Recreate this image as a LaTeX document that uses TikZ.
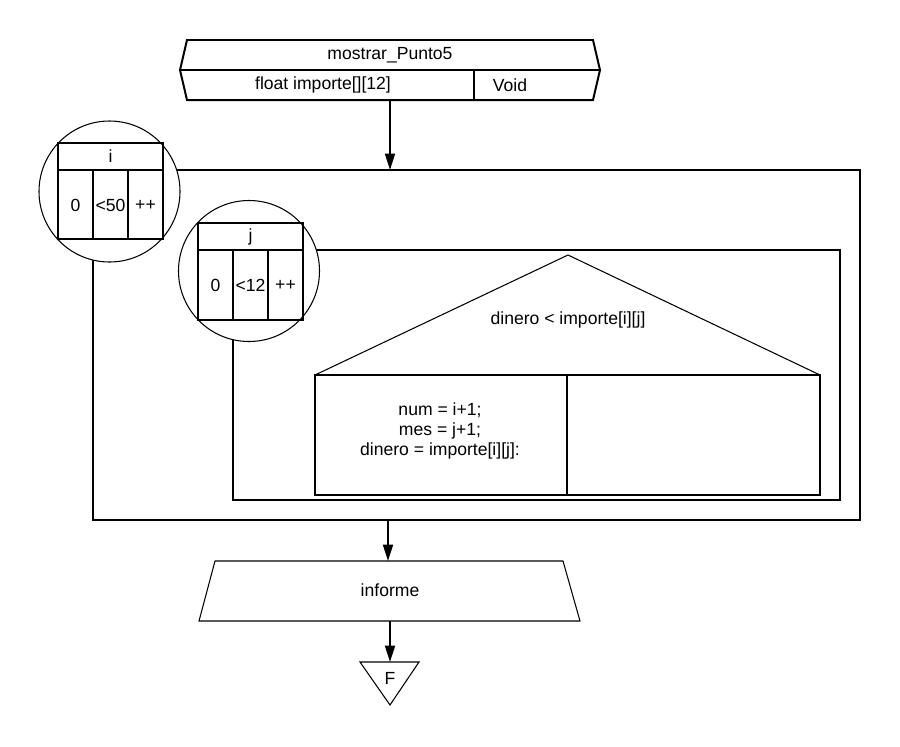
\documentclass[tikz,border=0pt]{standalone}
\usepackage{fontspec}
\setmainfont{Liberation Sans}
\usetikzlibrary{arrows.meta}
\newcommand{\gruesa}{1.7pt}
\newcommand{\fina}{0.9pt}

\begin{document}
\begin{tikzpicture}[x=0.03cm, y=-0.03cm,
    font=\fontsize{15}{17}\selectfont,
    marco/.style={line width=\gruesa},
    linea/.style={line width=\fina},
    flecha/.style={line width=\gruesa, -{Triangle[length=14pt, width=8.5pt]}},
    ciclo/.style={draw, circle, line width=\fina, fill=white, minimum size=4.23cm, inner sep=0pt}]

  \useasboundingbox (0,0) rectangle (900,746);

  % encabezado
  \draw[marco] (187,40) -- (593,40) -- (600,70) -- (593,100) -- (187,100) -- (180,70) -- cycle;
  \draw[marco] (180,70) -- (600,70);
  \draw[line width=2.5pt] (474,70) -- (474,100);
  \node (nombre) at (390,55)  {mostrar\_Punto5};
  \node (param)  at (323,85)  {float importe[][12]};
  \node (ret)    at (510,85)  {Void};

  \coordinate (entrada) at (390,100);
  \coordinate (cicloi) at (390,170);
  \draw[flecha] (entrada) to (cicloi);

  % ciclo i
  \draw[marco] (93,170) rectangle (860,520);
  \node (ci) at (109.5,191.5) [ciclo] {};
  \draw[marco] (58,143) rectangle (163,239);
  \draw[marco] (58,170) -- (163,170);
  \draw[marco] (93,170) -- (93,239);
  \draw[marco] (128,170) -- (128,239);
  \node (vari)  at (110.5,156.5) {i};
  \node (inii)  at (75.5,205)    {0};
  \node (condi) at (110.5,205)   {<50};
  \node (inci)  at (145.5,205)   {++};

  % ciclo j
  \draw[marco] (233,250) rectangle (840,500);
  \node (cj) at (249,271) [ciclo] {};
  \draw[marco] (198,223) rectangle (303,320);
  \draw[marco] (198,250) -- (303,250);
  \draw[marco] (233,250) -- (233,320);
  \draw[marco] (268,250) -- (268,320);
  \node (varj)  at (250.5,236.5) {j};
  \node (inij)  at (215.5,285)   {0};
  \node (condj) at (250.5,285)   {<12};
  \node (incj)  at (285.5,285)   {++};

  % decision
  \draw[linea] (315,375) -- (568,255) -- (820,375);
  \draw[marco] (315,375) rectangle (820,495);
  \draw[marco] (567,375) -- (567,495);
  \node (cond) at (568,320) {dinero < importe[i][j]};
  \node (verdad) at (440,431) [align=center] {num = i+1;\\ mes = j+1;\\ dinero = importe[i][j]:};

  % salida
  \coordinate (fin) at (388,520);
  \coordinate (sal) at (388,561);
  \draw[flecha] (fin) to (sal);
  \draw[linea] (215,561) -- (563,561) -- (580,621) -- (199,621) -- cycle;
  \node (informe) at (390,590) {informe};
  \coordinate (salida) at (390,621);
  \coordinate (term) at (390,662);
  \draw[flecha] (salida) to (term);
  \draw[linea] (360,662) -- (419,662) -- (390,705) -- cycle;
  \node (F) at (390,678) {F};

\end{tikzpicture}
\end{document}
